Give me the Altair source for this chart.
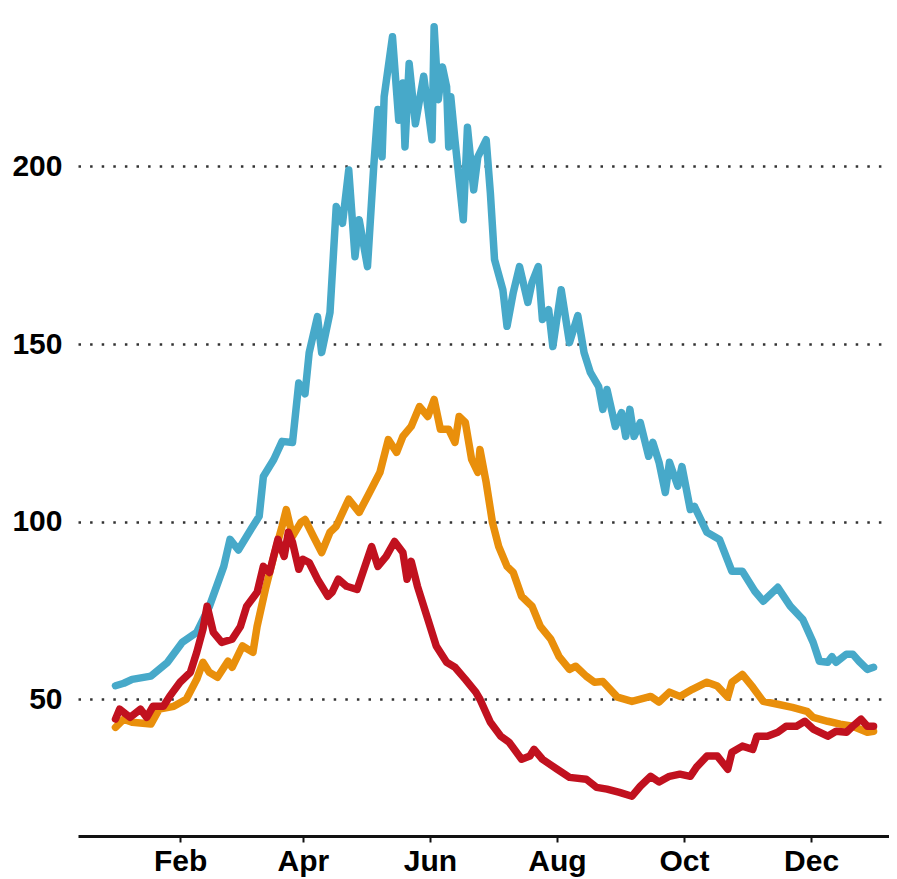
import altair as alt
import pandas as pd

# Day offsets from 1 January and values
blue_days = [0,4,8,17,25,32,39,45,52,55,59,65,69,71,76,80,85,88,91,93,97,99,103,106,109,112,115,117,121,124,
             126,128,129,133,136,138,139,141,144,148,152,153,155,157,159,160,161,163,167,169,172,174,178,180,182,
             186,188,191,194,198,200,203,205,208,210,214,218,222,225,228,232,234,236,240,243,245,247,249,252,256,
             258,261,264,266,270,272,276,278,284,290,296,301,307,311,318,324,330,335,338,342,344,346,351,354,357,361,364]
blue_vals = [53.8,54.5,55.6,56.5,60.4,66,68.8,76,87.4,95,92,97.8,101.5,112.7,117.5,122.6,122.3,139,136,147.6,
             157.7,147.6,158.9,188.7,184,199,174.6,185,171.8,200,216,202.7,219.6,236.5,213,223.5,205.5,229,212,225.4,
             207.5,239.3,218.8,228,222.4,205.5,219.6,207.5,185,211,193.4,202.7,207.5,192.6,173.8,165.3,155,164.5,171.8,161.7,
             167.3,171.8,156.9,159.7,149.3,165.3,150.4,158,147.6,142,138,131.6,137.2,126.8,130.7,124,131.6,124,127.9,118.4,
             122.3,116.7,108.2,116.7,110,115.5,103.4,104.3,97,95,86,86,80.4,77.6,81.5,76.2,72.5,66,60.7,60.4,
             62,60.4,62.7,62.7,60.7,58.4,59]

orange_days = [0,4,8,17,21,28,34,39,42,45,49,54,56,61,66,68,72,76,80,82,85,89,91,95,99,103,106,112,117,122,
               127,131,135,138,142,146,150,153,156,160,163,165,168,171,174,175,178,181,184,188,191,195,200,204,209,
               213,218,221,226,230,234,241,248,257,261,266,271,277,284,289,294,296,301,306,311,318,325,332,335,342,
               348,354,361,364]
orange_vals = [42.1,44.4,43.5,43,47.2,48,50,55.6,60.4,57.6,56.2,60.7,59,65,63.2,70.5,81,90.2,98.7,103.4,
               95.9,99.8,100.6,95.9,91.3,97,98.7,106.3,102.6,108.2,113.9,123.1,119.5,124,126.8,132.4,129.6,134.4,126,126,
               122.3,129.6,127.9,117.5,113.9,120.3,111,99.8,93,87.4,85.7,79,76.2,70.5,66.9,62,58.4,59.3,56.5,54.8,
               55,50.6,49.4,50.8,49.2,52,50.8,52.8,54.8,53.7,50.6,54.8,57,53.4,49.4,48.6,47.7,46.6,44.9,43.8,
               43,42.4,40.7,41]

red_days = [0,2,7,12,15,18,23,26,31,36,39,42,44,47,51,56,60,63,68,71,74,78,81,83,85,88,90,93,97,102,
            104,107,111,116,123,126,130,134,138,140,142,145,150,154,159,163,168,173,175,180,185,189,195,199,201,
            205,212,218,226,231,236,242,248,252,257,261,266,271,276,279,284,289,294,296,301,306,308,313,318,322,
            327,331,335,342,346,351,354,358,361,364]
red_vals = [44.4,47.2,44.9,47.2,44.9,48,48,50.8,54.8,57.6,63.2,69.7,76.2,68.8,66,66.9,70.5,76.2,80.1,87.4,
            85.7,95,90.2,97,94.2,86.6,89.4,88.5,83.8,79,80.1,83.8,81.8,80.9,93,87.4,90.2,94.4,91.3,83.8,
            88.8,81.8,72.5,65,60.4,59,55.6,52,50,43.5,39.6,37.9,33.1,34,35.9,33.1,30.3,28,27.5,25.2,
            24.7,23.8,22.7,25.5,28.3,26.7,28.3,28.9,28.3,30.9,34,34,30.3,35.1,36.8,35.9,39.6,39.6,40.7,42.4,
            42.4,43.8,41.6,39.6,41,40.7,42.4,44.4,42.4,42.4]

y_ticks = [50, 100, 150, 200]
x_tick_months = [2, 4, 6, 8, 10, 12]

BASE = pd.Timestamp("2021-01-01")
FONT = "Liberation Sans"


def frame(days, vals):
    dates = (BASE + pd.to_timedelta(days, unit="D")).strftime("%Y-%m-%dT%H:%M:%S")
    return pd.DataFrame({"date": list(dates), "value": vals})


x_enc = alt.X(
    "date:T",
    title=None,
    scale=alt.Scale(domain=[alt.DateTime(year=2020, month=12, date=14),
                            alt.DateTime(year=2022, month=1, date=7, hours=10)]),
    axis=alt.Axis(
        values=[alt.DateTime(year=2021, month=m, date=1) for m in x_tick_months],
        format="%b", grid=False, domain=True, domainColor="#111", domainWidth=3,
        ticks=True, tickSize=6, tickWidth=2, tickColor="#111",
        labelPadding=4, labelFont=FONT, labelFontWeight="bold", labelFontSize=30,
        labelColor="#000",
    ),
)
y_enc = alt.Y(
    "value:Q",
    title=None,
    scale=alt.Scale(domain=[11.5, 244.6], nice=False, zero=False),
    axis=alt.Axis(
        values=y_ticks, domain=False, ticks=False, tickSize=0, labelPadding=16,
        labelFont=FONT, labelFontWeight="bold", labelFontSize=30, labelColor="#000",
        grid=True, gridDash=[2.5, 9.1], gridColor="#333", gridWidth=2.5,
    ),
)


def line(days, vals, color):
    return alt.Chart(frame(days, vals)).mark_line(
        color=color, strokeWidth=7.5, strokeJoin="round", strokeCap="round"
    ).encode(x=x_enc, y=y_enc)


chart = alt.layer(
    line(blue_days, blue_vals, "#47A9C9"),
    line(orange_days, orange_vals, "#E98F0B"),
    line(red_days, red_vals, "#C1111F"),
).properties(
    width=811,
    height=828,
    autosize=alt.AutoSizeParams(type="none"),
    padding={"left": 70, "top": 0, "right": 0, "bottom": 43},
).configure_view(stroke=None)

chart.save("out.html", embed_options={"renderer": "svg", "actions": False})
